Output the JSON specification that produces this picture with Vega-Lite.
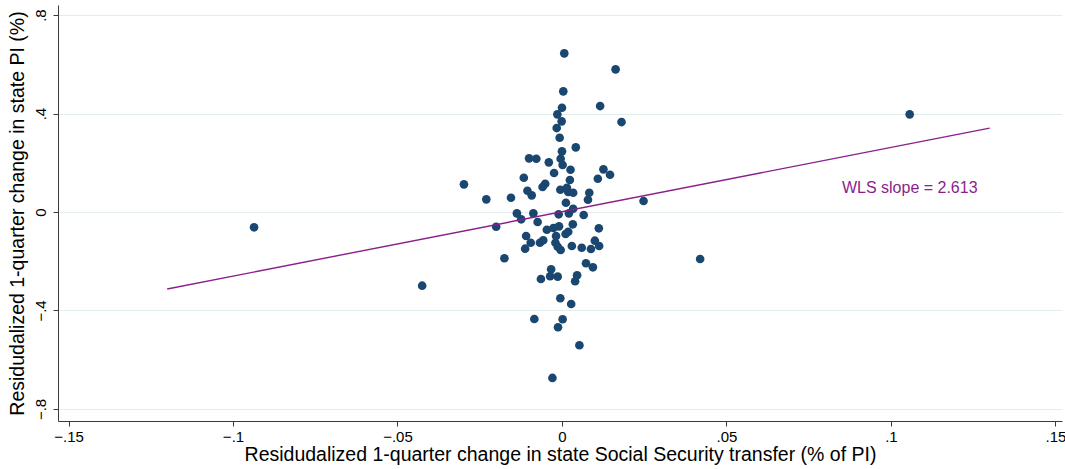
{
  "$schema": "https://vega.github.io/schema/vega-lite/v6.json",
  "width": 1004,
  "height": 416,
  "autosize": {"type": "none"},
  "padding": {"left": 58, "top": 5, "right": 3, "bottom": 48},
  "background": "white",
  "config": {
    "view": {"stroke": null},
    "font": "Liberation Sans",
    "axis": {
      "domainColor": "#3a3a3a",
      "tickColor": "#3a3a3a",
      "domainWidth": 1,
      "tickWidth": 1,
      "tickSize": 5,
      "labelFont": "Liberation Sans",
      "titleFont": "Liberation Sans",
      "labelFontSize": 15,
      "titleFontSize": 19.5,
      "titleFontWeight": "normal",
      "labelColor": "#000000",
      "titleColor": "#000000"
    }
  },
  "datasets": {
    "pts": [
      {"x": 0.0007, "y": 0.6445}, {"x": 0.0163, "y": 0.5795}, {"x": 0.0004, "y": 0.4902}, {"x": 0.0116, "y": 0.4305},
      {"x": 0.0000, "y": 0.4236}, {"x": -0.0014, "y": 0.3968}, {"x": 0.0181, "y": 0.3655}, {"x": -0.0001, "y": 0.3683},
      {"x": -0.0016, "y": 0.3411}, {"x": -0.0007, "y": 0.3017}, {"x": 0.0042, "y": 0.2627}, {"x": 0.0000, "y": 0.2465},
      {"x": -0.0100, "y": 0.2181}, {"x": -0.0078, "y": 0.2164}, {"x": -0.0004, "y": 0.2164}, {"x": -0.0040, "y": 0.2018},
      {"x": 0.0002, "y": 0.1909}, {"x": 0.0026, "y": 0.1718}, {"x": 0.0126, "y": 0.1734}, {"x": -0.0024, "y": 0.1584},
      {"x": 0.0146, "y": 0.1515}, {"x": -0.0116, "y": 0.1393}, {"x": 0.0109, "y": 0.1352}, {"x": 0.0024, "y": 0.1299},
      {"x": -0.0298, "y": 0.1125}, {"x": -0.0051, "y": 0.1149}, {"x": -0.0059, "y": 0.1015}, {"x": -0.0105, "y": 0.0865},
      {"x": -0.0005, "y": 0.0906}, {"x": 0.0015, "y": 0.0987}, {"x": 0.0019, "y": 0.0812}, {"x": 0.0034, "y": 0.0784},
      {"x": 0.0083, "y": 0.0784}, {"x": -0.0092, "y": 0.0678}, {"x": -0.0230, "y": 0.0516}, {"x": -0.0155, "y": 0.0581},
      {"x": 0.0079, "y": 0.0500}, {"x": 0.0248, "y": 0.0447}, {"x": 0.0012, "y": 0.0378}, {"x": 0.0034, "y": 0.0134},
      {"x": -0.0137, "y": -0.0053}, {"x": -0.0087, "y": -0.0053}, {"x": -0.0010, "y": -0.0093}, {"x": 0.0021, "y": -0.0053},
      {"x": 0.0066, "y": -0.0122}, {"x": -0.0124, "y": -0.0296}, {"x": -0.0074, "y": -0.0406}, {"x": -0.0200, "y": -0.0597},
      {"x": -0.0046, "y": -0.0719}, {"x": -0.0026, "y": -0.0650}, {"x": -0.0009, "y": -0.0581}, {"x": 0.0033, "y": -0.0499},
      {"x": 0.0112, "y": -0.0662}, {"x": 0.0019, "y": -0.0800}, {"x": 0.0011, "y": -0.0893}, {"x": -0.0109, "y": -0.0975},
      {"x": -0.0018, "y": -0.0975}, {"x": -0.0095, "y": -0.1247}, {"x": -0.0067, "y": -0.1247}, {"x": -0.0057, "y": -0.1149},
      {"x": -0.0020, "y": -0.1247}, {"x": -0.0013, "y": -0.1409}, {"x": 0.0100, "y": -0.1165}, {"x": 0.0113, "y": -0.1381},
      {"x": -0.0112, "y": -0.1490}, {"x": -0.0004, "y": -0.1543}, {"x": 0.0030, "y": -0.1381}, {"x": 0.0060, "y": -0.1450},
      {"x": 0.0088, "y": -0.1503}, {"x": -0.0175, "y": -0.1880}, {"x": 0.0073, "y": -0.2083}, {"x": 0.0094, "y": -0.2246},
      {"x": -0.0033, "y": -0.2327}, {"x": -0.0036, "y": -0.2611}, {"x": -0.0013, "y": -0.2627}, {"x": -0.0064, "y": -0.2721},
      {"x": 0.0046, "y": -0.2571}, {"x": 0.0040, "y": -0.2814}, {"x": -0.0005, "y": -0.3505}, {"x": 0.0028, "y": -0.3736},
      {"x": -0.0084, "y": -0.4345}, {"x": 0.0002, "y": -0.4357}, {"x": -0.0012, "y": -0.4682}, {"x": 0.0053, "y": -0.5413},
      {"x": -0.0029, "y": -0.6741}, {"x": -0.0936, "y": -0.0621}, {"x": -0.0425, "y": -0.2993}, {"x": 0.1057, "y": 0.3968},
      {"x": 0.0420, "y": -0.1909}
    ],
    "fit": [
      {"x": -0.12, "y": -0.3126},
      {"x": 0.13, "y": 0.3407}
    ],
    "note": [
      {"x": 0.0851, "y": 0.076, "label": "WLS slope = 2.613"}
    ]
  },
  "layer": [
    {
      "data": {"name": "pts"},
      "mark": {"type": "point", "filled": true, "opacity": 1, "size": 75, "color": "#1a476f"},
      "encoding": {
        "x": {
          "field": "x", "type": "quantitative",
          "scale": {"domain": [-0.1532, 0.152], "nice": false, "zero": false},
          "axis": {
            "title": "Residudalized 1-quarter change in state Social Security transfer (% of PI)",
            "values": [-0.15, -0.1, -0.05, 0, 0.05, 0.1, 0.15],
            "labelExpr": "datum.value === 0 ? '0' : replace(format(datum.value, '.2~f'), '0.', '.')",
            "grid": false,
            "labelPadding": 3,
            "titlePadding": 1,
            "labelFlush": false
          }
        },
        "y": {
          "field": "y", "type": "quantitative",
          "scale": {"domain": [-0.849, 0.841], "nice": false, "zero": false},
          "axis": {
            "title": "Residudalized 1-quarter change in state PI (%)",
            "values": [-0.8, -0.4, 0, 0.4, 0.8],
            "labelExpr": "datum.value === 0 ? '0' : replace(format(datum.value, '.1~f'), '0.', '.')",
            "grid": true,
            "gridColor": "#e3eced",
            "gridWidth": 1,
            "labelAngle": -90,
            "labelAlign": "center",
            "labelBaseline": "bottom",
            "labelPadding": 5,
            "titlePadding": 6,
            "labelFlush": false
          }
        }
      }
    },
    {
      "data": {"name": "fit"},
      "mark": {"type": "line", "color": "#8a1f8a", "strokeWidth": 1.4},
      "encoding": {
        "x": {"field": "x", "type": "quantitative"},
        "y": {"field": "y", "type": "quantitative"}
      }
    },
    {
      "data": {"name": "note"},
      "mark": {"type": "text", "align": "left", "baseline": "alphabetic", "color": "#8a1f8a", "fontSize": 16, "font": "Liberation Sans"},
      "encoding": {
        "x": {"field": "x", "type": "quantitative"},
        "y": {"field": "y", "type": "quantitative"},
        "text": {"field": "label"}
      }
    }
  ]
}
